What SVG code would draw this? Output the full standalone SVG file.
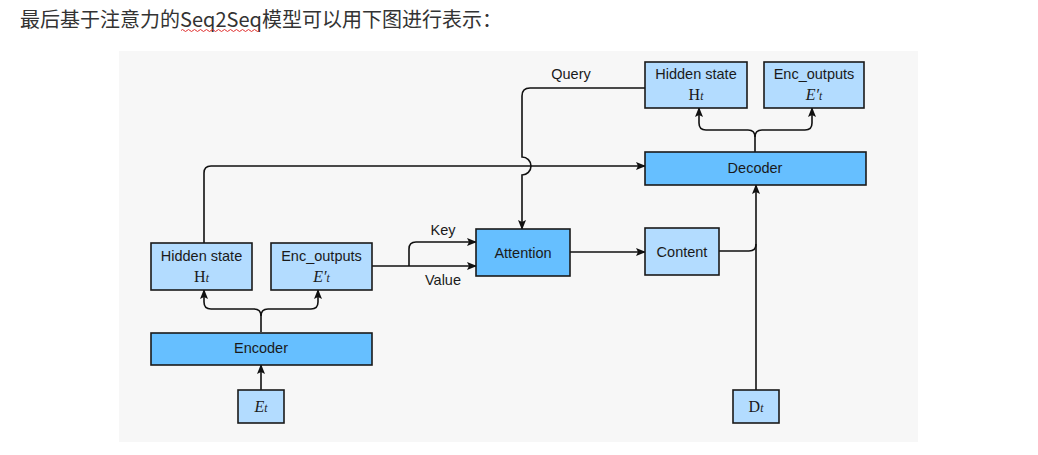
<svg xmlns="http://www.w3.org/2000/svg" width="1038" height="455" viewBox="0 0 1038 455">
<style>
.dark{fill:#66bfff;stroke:#1a1a1a;stroke-width:1.6}
.light{fill:#b3dcff;stroke:#1a1a1a;stroke-width:1.6}
.lbl{font-family:"Liberation Sans",Arial,sans-serif;font-size:14.5px;fill:#1a1a1a;text-anchor:middle}
.math{font-family:"Liberation Serif","Times New Roman",serif;font-size:16px;fill:#1a1a1a;text-anchor:middle}
.sub{font-style:italic;font-size:11.5px}
.edge{fill:none;stroke:#111;stroke-width:1.6}
</style>
<defs>
<marker id="ah" markerUnits="userSpaceOnUse" markerWidth="10" markerHeight="8" refX="9" refY="4" orient="auto">
<path d="M0,0 L10,4 L0,8 L2,4 z" fill="#111"/>
</marker>
</defs>
<rect x="0" y="0" width="1038" height="455" fill="#ffffff"/>
<rect x="119" y="51" width="799" height="391" fill="#f7f7f7"/>
<text x="20" y="27" font-family="'Noto Sans CJK SC','Noto Sans',sans-serif" font-size="20" fill="#333333">最后基于注意力的Seq2Seq模型可以用下图进行表示：</text>
<path d="M181 30.5 q1.5 -2 3 0 t3 0 t3 0 t3 0 t3 0 t3 0 t3 0 t3 0 t3 0 t3 0 t3 0 t3 0 t3 0 t3 0 t3 0 t3 0 t3 0 t3 0 t3 0 t3 0 t3 0 t3 0 t3 0 t3 0 t3 0 t3 0" fill="none" stroke="#e03030" stroke-width="1"/>

<g id="connectors">
<path class="edge" d="M261 390 V365" marker-end="url(#ah)"/>
<path class="edge" d="M261 332 V316 Q261 309 254 309 H211 Q204 309 204 302 V290" marker-end="url(#ah)"/>
<path class="edge" d="M261 316 Q261 309 268 309 H311 Q318 309 318 302 V290" marker-end="url(#ah)"/>
<path class="edge" d="M204 243 V173 Q204 166 211 166 H645" marker-end="url(#ah)"/>
<path class="edge" d="M645 88 H530 Q522 88 522 96 V157 A9 9 0 0 1 522 175 V229" marker-end="url(#ah)"/>
<path class="edge" d="M372 266 H476" marker-end="url(#ah)"/>
<path class="edge" d="M409 266 V249 Q409 242 416 242 H476" marker-end="url(#ah)"/>
<path class="edge" d="M570 252 H645" marker-end="url(#ah)"/>
<path class="edge" d="M719 251 H749 Q756 251 756 244"/>
<path class="edge" d="M756 390 V185" marker-end="url(#ah)"/>
<path class="edge" d="M755 152 V137 Q755 130 748 130 H706 Q699 130 699 123 V108" marker-end="url(#ah)"/>
<path class="edge" d="M755 137 Q755 130 762 130 H805 Q812 130 812 123 V108" marker-end="url(#ah)"/>
<text class="lbl" x="571" y="79">Query</text>
<text class="lbl" x="443" y="235">Key</text>
<text class="lbl" x="443" y="285">Value</text>
</g>

<g id="dec-hidden">
<rect class="light" x="645" y="62" width="102" height="46"/>
<text class="lbl" x="696" y="79">Hidden state</text>
<text class="math" x="696" y="100">H<tspan class="sub">t</tspan></text>
</g>
<g id="dec-encout">
<rect class="light" x="764" y="62" width="100" height="46"/>
<text class="lbl" x="814" y="79">Enc_outputs</text>
<text class="math" x="814" y="100" font-style="italic">E′<tspan class="sub">t</tspan></text>
</g>
<g id="decoder">
<rect class="dark" x="645" y="152" width="221" height="33"/>
<text class="lbl" x="755" y="173">Decoder</text>
</g>
<g id="attention">
<rect class="dark" x="476" y="229" width="94" height="47"/>
<text class="lbl" x="523" y="258">Attention</text>
</g>
<g id="content">
<rect class="light" x="645" y="228" width="74" height="47"/>
<text class="lbl" x="682" y="257">Content</text>
</g>
<g id="enc-hidden">
<rect class="light" x="151" y="243" width="101" height="47"/>
<text class="lbl" x="201.5" y="261">Hidden state</text>
<text class="math" x="201.5" y="282">H<tspan class="sub">t</tspan></text>
</g>
<g id="enc-encout">
<rect class="light" x="271" y="243" width="101" height="47"/>
<text class="lbl" x="321.5" y="261">Enc_outputs</text>
<text class="math" x="321.5" y="282" font-style="italic">E′<tspan class="sub">t</tspan></text>
</g>
<g id="encoder">
<rect class="dark" x="151" y="333" width="221" height="32"/>
<text class="lbl" x="261" y="353">Encoder</text>
</g>
<g id="et">
<rect class="light" x="238" y="390" width="46" height="33"/>
<text class="math" x="261" y="412" font-style="italic">E<tspan class="sub">t</tspan></text>
</g>
<g id="dt">
<rect class="light" x="733" y="390" width="46" height="33"/>
<text class="math" x="756" y="412">D<tspan class="sub">t</tspan></text>
</g>
</svg>
